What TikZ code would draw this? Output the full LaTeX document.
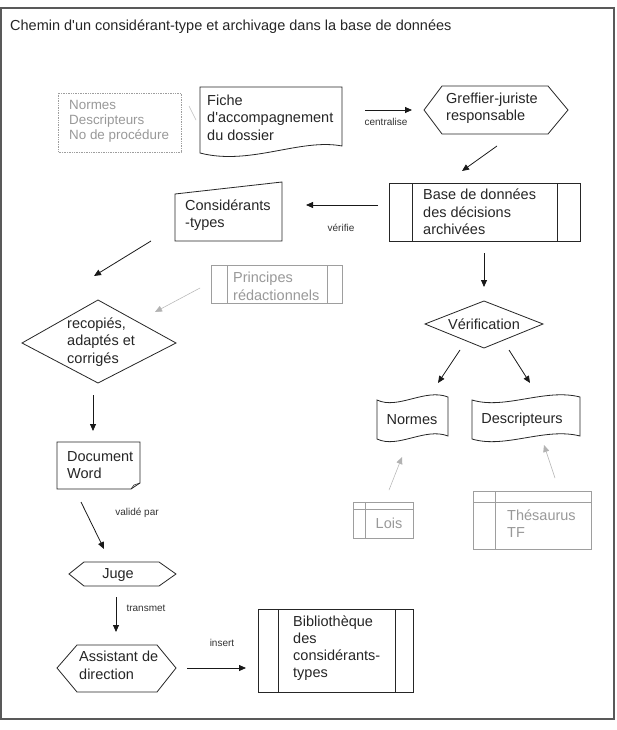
\documentclass[tikz,border=0pt]{standalone}
\usepackage{fontspec}
\setmainfont{Liberation Sans}
\usetikzlibrary{arrows.meta}
\begin{document}
\begin{tikzpicture}[x=1pt,y=-1pt,
  shp/.style={draw=black!85, line width=0.8pt, line join=miter},
  gshp/.style={draw=black!38, line width=0.7pt},
  txt/.style={inner sep=0pt, anchor=west, align=left, font=\fontsize{14.5}{17.5}\selectfont, text=black!85},
  gtxt/.style={txt, text=black!40},
  lbl/.style={inner sep=0pt, font=\fontsize{10}{12}\selectfont, text=black!80},
  arr/.style={draw=black!90, line width=0.8pt, -{Triangle[length=7pt,width=6pt]}},
  garr/.style={draw=black!30, line width=0.5pt, -{Triangle[length=7pt,width=6pt]}},
]
\useasboundingbox (0,0) rectangle (616,730);
\fill[white] (0,0) rectangle (616,730);
% frame
\draw[draw=black!65, line width=1.6pt] (1,8) rectangle (614,719);
\node[txt] (title) at (10,27) {Chemin d\textquotesingle un considérant-type et archivage dans la base de données};

% info box (dotted)
\draw[gshp, densely dotted] (58,93) rectangle (181,152);
\node[gtxt, font=\fontsize{13.4}{15.2}\selectfont] (info) at (69,121) {Normes\\Descripteurs\\No de procédure};
\coordinate (i1) at (189,106);
\coordinate (i2) at (196,120);
\draw[draw=black!25, line width=0.5pt] (i1) -- (i2);

% Fiche (document)
\draw[shp] (200,153) -- (200,87) -- (342,87) -- (342,146) .. controls (300,138) and (250,166) .. (200,153) -- cycle;
\node[txt] (fiche) at (207,117.5) {Fiche\\d\textquotesingle accompagnement\\du dossier};

% centralise
\coordinate (c1) at (365,110);
\coordinate (c2) at (412,110);
\draw[arr] (c1) -- (c2);
\node[lbl] (lcent) at (386,122) {centralise};

% Greffier hexagon
\draw[shp] (424,110) -- (442,86) -- (548,86) -- (568,110) -- (548,134) -- (442,134) -- cycle;
\node[txt] (greffier) at (446,108.5) {Greffier-juriste\\responsable};

\coordinate (g1) at (497,146);
\coordinate (g2) at (462,171);
\draw[arr] (g1) -- (g2);

% Base de donnees
\draw[shp] (389,183) rectangle (580,241);
\draw[shp] (412,183) -- (412,241) (557,183) -- (557,241);
\node[txt] (base) at (423,212) {Base de données\\des décisions\\archivées};

% verifie
\coordinate (v1) at (378,205);
\coordinate (v2) at (306,205);
\draw[arr] (v1) -- (v2);
\node[lbl] (lver) at (341,228) {vérifie};

% Considerants-types (manual input)
\draw[shp] (175,194) -- (282,182) -- (282,241) -- (175,241) -- cycle;
\node[txt] (consid) at (185,215) {Considérants\\-types};

\coordinate (k1) at (151,241);
\coordinate (k2) at (94,276);
\draw[arr] (k1) -- (k2);

% Principes redactionnels
\draw[gshp] (211,265) rectangle (342,303);
\draw[gshp] (227,265) -- (227,303) (327,265) -- (327,303);
\node[gtxt] (princ) at (233,286.5) {Principes\\rédactionnels};

\coordinate (p1) at (200,288);
\coordinate (p2) at (155,312);
\draw[garr] (p1) -- (p2);

% diamond recopies
\draw[shp] (22,343) -- (98,300) -- (176,343) -- (98,383) -- cycle;
\node[txt] (recop) at (67,342) {recopiés,\\adaptés et\\corrigés};

\coordinate (r1) at (93,395);
\coordinate (r2) at (93,431);
\draw[arr] (r1) -- (r2);

% Document Word
\draw[shp] (57,442) -- (140,442) -- (140,483) -- (131,489) -- (57,489) -- cycle;
\draw[shp, line width=0.6pt] (140,483) -- (134,485) -- (131,489);
\node[txt] (docw) at (67,465) {Document\\Word};

\coordinate (w1) at (81,502);
\coordinate (w2) at (104,549);
\draw[arr] (w1) -- (w2);
\node[lbl] (lval) at (137,513) {validé par};

% Juge
\draw[shp] (69,574) -- (84,562) -- (159,562) -- (176,574) -- (159,586) -- (84,586) -- cycle;
\node[txt, anchor=center] (juge) at (118,575) {Juge};

\coordinate (j1) at (116,597);
\coordinate (j2) at (116,632);
\draw[arr] (j1) -- (j2);
\node[lbl] (ltrans) at (146,608) {transmet};

% Assistant
\draw[shp] (57,668) -- (77,645) -- (157,645) -- (176,668) -- (157,692) -- (77,692) -- cycle;
\node[txt] (assist) at (79,665.5) {Assistant de\\direction};

\coordinate (a1) at (187,668);
\coordinate (a2) at (246,668);
\draw[arr] (a1) -- (a2);
\node[lbl] (lins) at (222,643) {insert};

% Bibliotheque
\draw[shp] (258,609) rectangle (413,692);
\draw[shp] (278,609) -- (278,692) (395,609) -- (395,692);
\node[txt, font=\fontsize{14.5}{17}\selectfont] (biblio) at (293,648) {Bibliothèque\\des\\considérants-\\types};

% right branch
\coordinate (b1) at (484,253);
\coordinate (b2) at (484,287);
\draw[arr] (b1) -- (b2);

\draw[shp] (425,324) -- (484,301) -- (543,324) -- (484,348) -- cycle;
\node[txt, anchor=center] (verif) at (484,324) {Vérification};

\coordinate (f1) at (460,350);
\coordinate (f2) at (438,383);
\coordinate (f3) at (509,350);
\coordinate (f4) at (530,383);
\draw[arr] (f1) -- (f2);
\draw[arr] (f3) -- (f4);

% Normes tape
\draw[shp] (377,400) .. controls (398,410) and (425,388) .. (448,397) -- (448,436) .. controls (425,427) and (398,449) .. (377,439) -- cycle;
\node[txt, anchor=center] (normes) at (412,420) {Normes};

% Descripteurs tape
\draw[shp] (472,400) .. controls (505,410) and (545,388) .. (580,397) -- (580,436) .. controls (545,427) and (505,449) .. (472,439) -- cycle;
\node[txt, anchor=center] (descr) at (522,420) {Descripteurs};

\coordinate (l1) at (389,490);
\coordinate (l2) at (402,457);
\draw[garr] (l1) -- (l2);
\coordinate (t1) at (555,478);
\coordinate (t2) at (544,445);
\draw[garr] (t1) -- (t2);

% Lois
\draw[gshp] (353,502) rectangle (413,538);
\draw[gshp] (353,509) -- (413,509) (365,502) -- (365,538);
\node[gtxt, anchor=center] (lois) at (389,523) {Lois};

% Thesaurus
\draw[gshp] (473,491) rectangle (591,549);
\draw[gshp] (473,502) -- (591,502) (495,491) -- (495,549);
\node[gtxt] (thes) at (507,523.5) {Thésaurus\\TF};
\end{tikzpicture}
\end{document}
